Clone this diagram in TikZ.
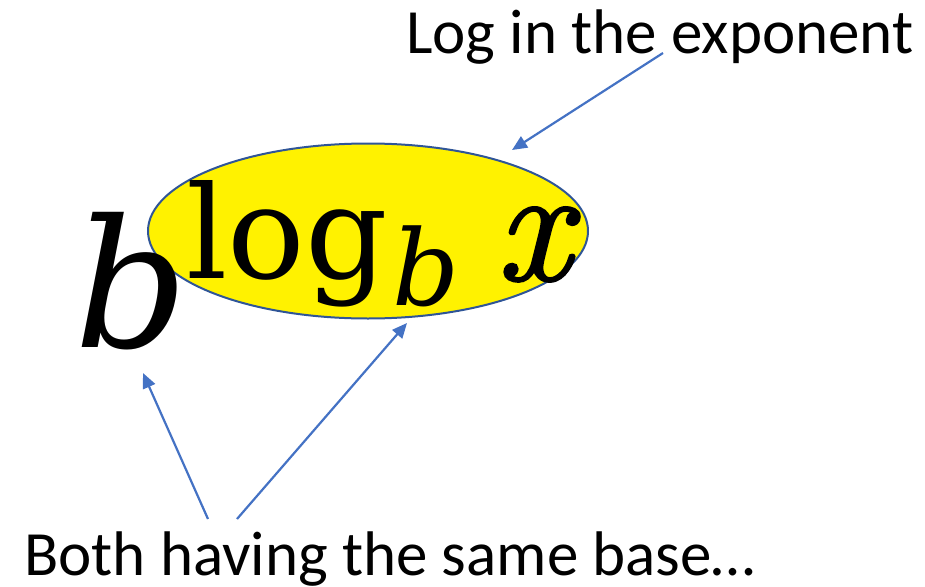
\documentclass[tikz,border=0pt]{standalone}
\usepackage{fontspec}
\setmainfont{Carlito}
\newfontfamily\mfont{DejaVu Serif}
\newfontfamily\xfont[FakeBold=1.5]{Latin Modern Roman}
\usetikzlibrary{shapes.geometric,arrows.meta}
\definecolor{arrowblue}{HTML}{4472C4}
\definecolor{ellblue}{HTML}{2F5597}
\tikzset{
  lbl/.style={anchor=base west, inner sep=0pt, font=\fontsize{63}{63}\selectfont},
  mathpart/.style={anchor=base west, inner sep=0pt},
  pointer/.style={draw=arrowblue, line width=2.2pt, -{Triangle[length=15pt,width=13pt]}},
}
\begin{document}
\begin{tikzpicture}[x=1pt,y=-1pt]
\useasboundingbox (0,0) rectangle (925,586);
\node[ellipse, draw=ellblue, line width=2pt, fill=yellow, minimum width=440pt, minimum height=175pt, inner sep=0pt] (ell) at (368,231) {};
\node[mathpart] (bigb) at (74,347) {\mfont\fontsize{178}{178}\selectfont\itshape b};
\node[mathpart] (log) at (186,278) {\mfont\fontsize{129}{129}\selectfont log};
\node[mathpart] (subb) at (392,305) {\mfont\fontsize{105}{105}\selectfont\itshape b};
\node[mathpart] (xx) at (496,280) {\xfont\fontsize{165}{165}\selectfont\itshape x};
\node[lbl] (toplbl) at (406,53) {Log in the exponent};
\node[lbl] (botlbl) at (24,575) {Both having the same base…};
\coordinate (s1) at (663,53);
\coordinate (t1) at (512,150);
\coordinate (s2) at (208,519);
\coordinate (t2) at (143,373);
\coordinate (s3) at (237,519);
\coordinate (t3) at (407,323);
\draw[pointer] (s1) -- (t1);
\draw[pointer] (s2) -- (t2);
\draw[pointer] (s3) -- (t3);
\end{tikzpicture}
\end{document}
